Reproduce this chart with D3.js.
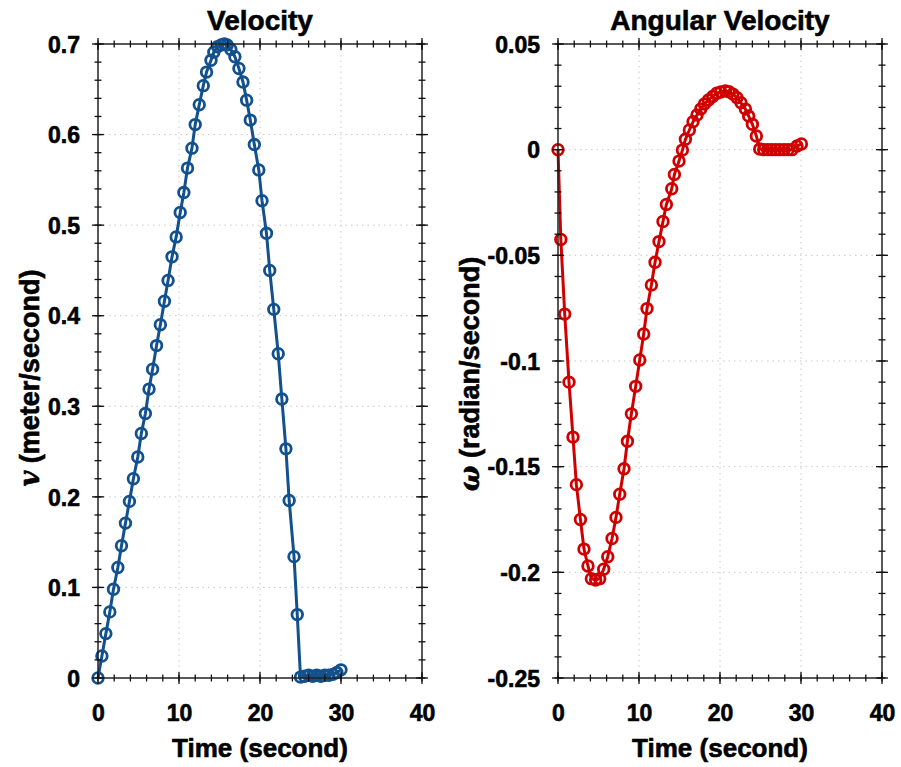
<!DOCTYPE html>
<html>
<head>
<meta charset="utf-8">
<script src="https://cdn.jsdelivr.net/npm/d3@7"></script>
<style>
  html, body { margin: 0; padding: 0; background: #fff; }
  svg { display: block; font-family: "Liberation Sans", Arial, sans-serif; }
</style>
</head>
<body>
<svg id="chart" width="901" height="767"></svg>
<script>
// ---------------- data ----------------
const velTime = [0, 0.48, 0.97, 1.46, 1.91, 2.45, 2.9, 3.39, 3.88, 4.37, 4.91, 5.35, 5.85, 6.3, 6.74, 7.23, 7.7, 8.2, 8.65, 9.14, 9.65, 10.15, 10.6, 11.05, 11.6, 12.0, 12.5, 13.0, 13.4, 13.95, 14.3, 14.75, 15.2, 15.6, 15.95, 16.4, 16.9, 17.4, 17.9, 18.35, 18.8, 19.3, 19.85, 20.25, 20.8, 21.2, 21.7, 22.25, 22.7, 23.2, 23.6, 24.2, 24.6, 25.0, 25.5, 26.0, 26.5, 27.0, 27.5, 28.0, 28.5, 29.0, 29.5, 30.0];
const velocity = [0, 0.0243, 0.049, 0.073, 0.098, 0.122, 0.146, 0.171, 0.195, 0.220, 0.244, 0.270, 0.292, 0.319, 0.341, 0.367, 0.390, 0.416, 0.439, 0.465, 0.487, 0.514, 0.536, 0.563, 0.585, 0.611, 0.633, 0.654, 0.669, 0.682, 0.691, 0.697, 0.699, 0.700, 0.699, 0.694, 0.686, 0.673, 0.658, 0.638, 0.616, 0.589, 0.561, 0.527, 0.491, 0.450, 0.407, 0.358, 0.308, 0.253, 0.196, 0.134, 0.070, 0.001, 0.002, 0.003, 0.002, 0.003, 0.002, 0.003, 0.003, 0.004, 0.006, 0.009];

const angTime = [0, 0.35, 0.83, 1.36, 1.85, 2.27, 2.77, 3.21, 3.70, 4.12, 4.65, 5.15, 5.64, 6.14, 6.67, 7.16, 7.62, 8.15, 8.57, 9.06, 9.59, 10.09, 10.58, 10.99, 11.53, 11.98, 12.47, 12.96, 13.38, 14.04, 14.37, 14.94, 15.36, 15.73, 16.22, 16.67, 17.16, 17.62, 18.07, 18.57, 19.1, 19.59, 20.09, 20.67, 21.11, 21.6, 22.1, 22.59, 23.14, 23.54, 24.0, 24.49, 24.9, 25.4, 25.89, 26.38, 26.88, 27.37, 27.9, 28.4, 28.89, 29.51, 30.05];
const angVelocity = [0, -0.0425, -0.0778, -0.110, -0.136, -0.1585, -0.175, -0.189, -0.197, -0.203, -0.2036, -0.203, -0.1985, -0.1926, -0.184, -0.174, -0.163, -0.151, -0.138, -0.125, -0.112, -0.0995, -0.0872, -0.0752, -0.064, -0.0533, -0.0435, -0.034, -0.0259, -0.0185, -0.0117, -0.0054, -0.0002, 0.0049, 0.0093, 0.0132, 0.0164, 0.0192, 0.0216, 0.0235, 0.0252, 0.0267, 0.0273, 0.0278, 0.0274, 0.0263, 0.0246, 0.0222, 0.0192, 0.0159, 0.012, 0.0065, 0.0003, 0, 0, 0, 0, 0, 0, 0, 0, 0.0017, 0.0027];

const xTicks = [0, 10, 20, 30, 40];
const velTicks = [0, 0.1, 0.2, 0.3, 0.4, 0.5, 0.6, 0.7];
const angTicks = [0.05, 0, -0.05, -0.1, -0.15, -0.2, -0.25];
const xMinor = d3.range(0, 40.001, 2);
const velMinor = d3.range(0, 0.7001, 0.02);
const angMinor = d3.range(-0.25, 0.05001, 0.01);

// ---------------- drawing ----------------
const svg = d3.select("#chart");

function boldText(sel) {
  return sel.attr("font-weight", "bold").attr("fill", "#000")
    .attr("stroke", "#000").attr("stroke-width", 0.6).attr("paint-order", "stroke");
}

function panel(opts) {
  const { left, right, top, bottom, xDomain, yDomain, xT, yT, xM, yM, times, values, color, title, yLabelSym, yLabelRest, yFmt, yLabelX, yLabelY } = opts;
  const x = d3.scaleLinear().domain(xDomain).range([left, right]);
  const y = d3.scaleLinear().domain(yDomain).range([bottom, top]);
  const g = svg.append("g");

  // grid
  g.selectAll(".gx").data(xT.slice(1, -1)).join("line")
    .attr("x1", d => x(d)).attr("x2", d => x(d)).attr("y1", top).attr("y2", bottom)
    .attr("stroke", "#c8c8c8").attr("stroke-width", 1).attr("stroke-dasharray", "1.5,4");
  g.selectAll(".gy").data(yT.filter(d => d !== yDomain[0] && d !== yDomain[1])).join("line")
    .attr("x1", left).attr("x2", right).attr("y1", d => y(d)).attr("y2", d => y(d))
    .attr("stroke", "#c8c8c8").attr("stroke-width", 1).attr("stroke-dasharray", "1.5,4");

  // line + markers
  const pts = times.map((t, i) => [t, values[i]]);
  g.append("path").datum(pts)
    .attr("d", d3.line().x(d => x(d[0])).y(d => y(d[1])))
    .attr("fill", "none").attr("stroke", color).attr("stroke-width", 3).attr("stroke-linejoin", "round");
  g.selectAll(".pt").data(pts).join("circle")
    .attr("cx", d => x(d[0])).attr("cy", d => y(d[1])).attr("r", 5.3)
    .attr("fill", "none").attr("stroke", color).attr("stroke-width", 2.8);

  // box
  g.append("rect").attr("x", left).attr("y", top).attr("width", right - left).attr("height", bottom - top)
    .attr("fill", "none").attr("stroke", "#222").attr("stroke-width", 1.5);

  // ticks (crossing the frame on all sides)
  const tk = g.append("g").attr("stroke", "#111").attr("stroke-width", 1.3);
  const major = 6, minor = 3.5;
  [[xM, minor], [xT, major]].forEach(([arr, s]) => {
    arr.forEach(v => {
      [bottom, top].forEach(yy => tk.append("line").attr("x1", x(v)).attr("x2", x(v)).attr("y1", yy - s).attr("y2", yy + s));
    });
  });
  [[yM, minor], [yT, major]].forEach(([arr, s]) => {
    arr.forEach(v => {
      [left, right].forEach(xx => tk.append("line").attr("y1", y(v)).attr("y2", y(v)).attr("x1", xx - s).attr("x2", xx + s));
    });
  });

  // tick labels via axes
  const ax = g.append("g").attr("transform", `translate(0,${bottom})`)
    .call(d3.axisBottom(x).tickValues(xT).tickSize(0).tickPadding(43).tickFormat(d3.format("d")));
  ax.select(".domain").remove();
  boldText(ax.selectAll("text").attr("font-size", 23)
    .attr("font-family", "Liberation Sans, Arial, sans-serif").attr("dy", 0));
  const ay = g.append("g").attr("transform", `translate(${left},0)`)
    .call(d3.axisLeft(y).tickValues(yT).tickSize(0).tickPadding(18).tickFormat(yFmt));
  ay.select(".domain").remove();
  boldText(ay.selectAll("text").attr("font-size", 23)
    .attr("font-family", "Liberation Sans, Arial, sans-serif").attr("dy", "0.36em"));

  // title
  boldText(g.append("text").attr("x", (left + right) / 2).attr("y", 30).attr("text-anchor", "middle")
    .attr("font-size", 28)).text(title);
  // x label
  boldText(g.append("text").attr("x", (left + right) / 2).attr("y", 757).attr("text-anchor", "middle")
    .attr("font-size", 26)).text("Time (second)");
  // y label
  const yl = boldText(g.append("text").attr("transform", `translate(${yLabelX},${yLabelY}) rotate(-90)`)
    .attr("text-anchor", "middle").attr("font-size", 27));
  yl.append("tspan").attr("font-family", "DejaVu Serif, serif").attr("font-style", "italic").text(yLabelSym);
  yl.append("tspan").text(" " + yLabelRest);
}

const fmtVel = d => d === 0 ? "0" : d3.format(".1f")(d);
const fmtAng = d => d === 0 ? "0" : String(+d.toFixed(2));

panel({
  left: 98, right: 422, top: 44, bottom: 678,
  xDomain: [0, 40], yDomain: [0, 0.7], xT: xTicks, yT: velTicks, xM: xMinor, yM: velMinor,
  times: velTime, values: velocity, color: "#12508e", title: "Velocity",
  yLabelSym: "v", yLabelRest: "(meter/second)", yFmt: fmtVel, yLabelX: 39, yLabelY: 378
});
panel({
  left: 558, right: 882, top: 44, bottom: 678,
  xDomain: [0, 40], yDomain: [-0.25, 0.05], xT: xTicks, yT: angTicks, xM: xMinor, yM: angMinor,
  times: angTime, values: angVelocity, color: "#d00000", title: "Angular Velocity",
  yLabelSym: "ω", yLabelRest: "(radian/second)", yFmt: fmtAng, yLabelX: 479, yLabelY: 374
});
</script>
</body>
</html>
